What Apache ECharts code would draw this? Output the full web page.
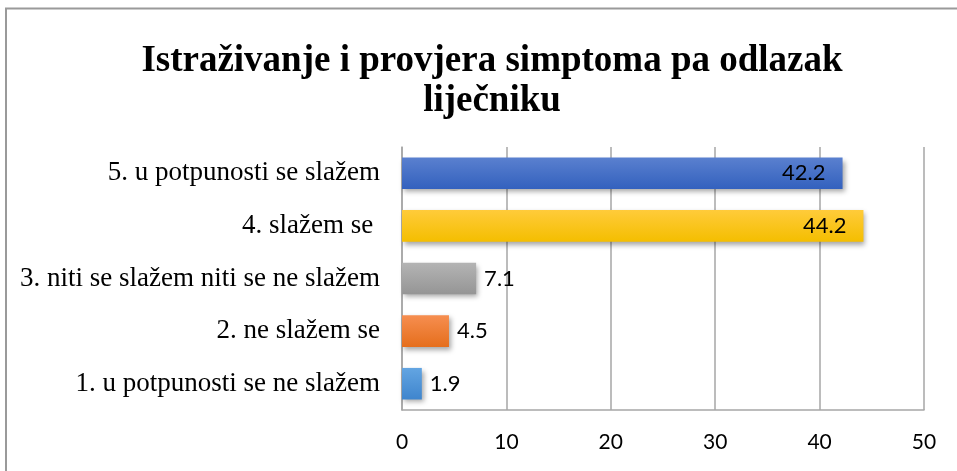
<!DOCTYPE html>
<html>
<head>
<meta charset="utf-8">
<script src="https://cdn.jsdelivr.net/npm/echarts@6/dist/echarts.min.js"></script>
<style>
html,body{margin:0;padding:0;background:#fff;}
#chart{width:957px;height:471px;}
</style>
</head>
<body>
<div id="chart"></div>
<script>
const titleText = 'Istraživanje i provjera simptoma pa odlazak\nliječniku';
const categories = [
  '1. u potpunosti se ne slažem',
  '2. ne slažem se',
  '3. niti se slažem niti se ne slažem',
  '4. slažem se ',
  '5. u potpunosti se slažem'
];
const values = [1.9, 4.5, 7.1, 44.2, 42.2];
const xTicks = [0, 10, 20, 30, 40, 50];

const palette = [
  ['#63a5e2', '#3f85cd'],
  ['#f68e50', '#e56e1c'],
  ['#b4b4b4', '#959595'],
  ['#ffcb3a', '#f4be00'],
  ['#5a80cf', '#3361be']
];

const chart = echarts.init(document.getElementById('chart'));
const data = values.map((v, i) => ({
  value: v,
  itemStyle: {
    color: new echarts.graphic.LinearGradient(0, 0, 0, 1, [
      {offset: 0, color: palette[i][0]},
      {offset: 1, color: palette[i][1]}
    ]),
    shadowColor: 'rgba(0,0,0,0.35)',
    shadowBlur: 5,
    shadowOffsetX: 2,
    shadowOffsetY: 3
  },
  label: {position: v > 20 ? 'insideRight' : 'right', distance: v > 20 ? 17 : 8}
}));

chart.setOption({
  animation: false,
  title: {
    text: titleText,
    left: 487,
    textAlign: 'center',
    top: 36,
    textStyle: {
      fontFamily: 'Liberation Serif',
      fontWeight: 'bold',
      fontSize: 37,
      lineHeight: 40,
      color: '#000'
    }
  },
  graphic: [{
    type: 'rect',
    shape: {x: 6, y: 8.5, width: 1000, height: 1000},
    style: {fill: 'none', stroke: '#9a9a9a', lineWidth: 2},
    silent: true
  }],
  grid: {left: 402, top: 147, right: 33, bottom: 61, containLabel: false},
  xAxis: {
    type: 'value',
    min: xTicks[0],
    max: xTicks[xTicks.length - 1],
    interval: xTicks[1] - xTicks[0],
    axisLine: {show: true, lineStyle: {color: '#a6a6a6', width: 1.5}},
    axisTick: {show: false},
    splitLine: {show: true, lineStyle: {color: '#a6a6a6', width: 1.5}},
    axisLabel: {
      margin: 22,
      fontFamily: 'Lato',
      fontSize: 21,
      color: '#000'
    }
  },
  yAxis: {
    type: 'category',
    data: categories,
    axisLine: {show: true, lineStyle: {color: '#a6a6a6', width: 1.5}},
    axisTick: {show: false},
    axisLabel: {
      margin: 22,
      fontFamily: 'Liberation Serif',
      fontSize: 27,
      color: '#000'
    }
  },
  series: [{
    type: 'bar',
    data: data,
    barWidth: '60%',
    label: {
      show: true,
      fontFamily: 'Lato',
      fontSize: 22,
      color: '#000'
    }
  }]
});
</script>
</body>
</html>
